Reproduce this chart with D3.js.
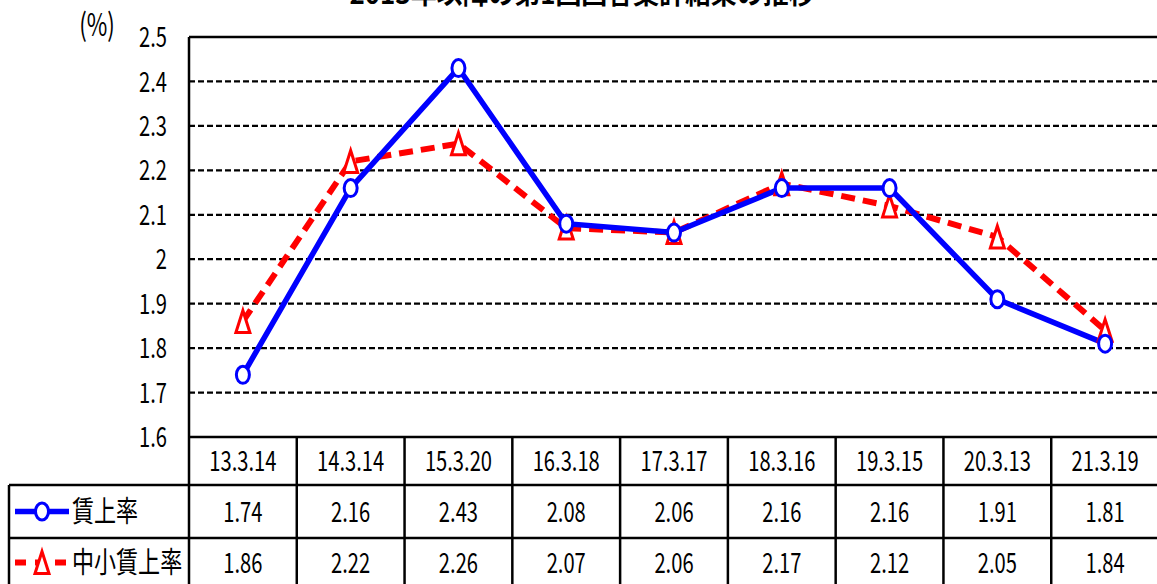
<!DOCTYPE html>
<html>
<head>
<meta charset="utf-8">
<script src="https://cdn.jsdelivr.net/npm/d3@7"></script>
<style>
  html, body { margin: 0; padding: 0; background: #fff; }
  svg { display: block; }
  text { font-family: "Noto Sans CJK JP", "Noto Sans", sans-serif; fill: #000; }
</style>
</head>
<body>
<div id="chart"></div>
<script>
// data
var categories = ["13.3.14", "14.3.14", "15.3.20", "16.3.18", "17.3.17", "18.3.16", "19.3.15", "20.3.13", "21.3.19"];
var wageRate = [1.74, 2.16, 2.43, 2.08, 2.06, 2.16, 2.16, 1.91, 1.81];
var smallWageRate = [1.86, 2.22, 2.26, 2.07, 2.06, 2.17, 2.12, 2.05, 1.84];
var yTicks = [1.6, 1.7, 1.8, 1.9, 2, 2.1, 2.2, 2.3, 2.4, 2.5];
var seriesNames = ["賃上率", "中小賃上率"];
var title = "2013年以降の第1回回答集計結果の推移";

var W = 1157, H = 584;
var svg = d3.select('#chart').append('svg').attr('width', W).attr('height', H);

var plot = { left: 189, right: 1159, top: 37, bottom: 437 };
var rowEdges = [437, 485, 538, 591];
var SX = 0.72; // the source font is narrow

var x = d3.scaleBand().domain(categories).range([plot.left, plot.right]);
var y = d3.scaleLinear().domain([1.6, 2.5]).range([plot.bottom, plot.top]);

function label(px, py, str, size, anchor, sx, weight) {
    return svg.append('text')
        .attr('transform', 'translate(' + px + ',' + py + ') scale(' + sx + ',1)')
        .attr('text-anchor', anchor)
        .attr('dy', '0.36em')
        .style('font-size', size + 'px')
        .style('font-weight', weight || 'normal')
        .text(str);
}

// title (cut off at the top of the picture, as in the source)
svg.append('text')
    .attr('x', 582).attr('y', 4)
    .attr('text-anchor', 'middle')
    .attr('textLength', 465).attr('lengthAdjust', 'spacingAndGlyphs')
    .style('font-size', '28px').style('font-weight', 'bold')
    .text(title);

// grid lines
svg.append('g').selectAll('line')
    .data(yTicks.filter(function (v) { return v > 1.6 && v < 2.5; }))
    .enter().append('line')
    .attr('x1', plot.left).attr('x2', plot.right)
    .attr('y1', function (d) { return y(d); }).attr('y2', function (d) { return y(d); })
    .attr('stroke', '#000').attr('stroke-width', 2.3).attr('stroke-dasharray', '6,3');

// plot border
svg.append('line').attr('x1', plot.left).attr('x2', plot.right)
    .attr('y1', y(2.5)).attr('y2', y(2.5)).attr('stroke', '#000').attr('stroke-width', 2.5);

// y tick labels
yTicks.forEach(function (v) {
    label(167, y(v), String(v), 28, 'end', SX);
});
label(97, 25, '(%)', 31, 'middle', 0.72);

// table
var tbl = svg.append('g').attr('stroke', '#000').attr('stroke-width', 2.5);
tbl.append('line').attr('x1', plot.left).attr('x2', plot.right).attr('y1', rowEdges[0]).attr('y2', rowEdges[0]);
tbl.append('line').attr('x1', 9).attr('x2', plot.right).attr('y1', rowEdges[1]).attr('y2', rowEdges[1]);
tbl.append('line').attr('x1', 9).attr('x2', plot.right).attr('y1', rowEdges[2]).attr('y2', rowEdges[2]);
tbl.append('line').attr('x1', 9).attr('x2', 9).attr('y1', rowEdges[1]).attr('y2', H + 5);
tbl.append('line').attr('x1', plot.left).attr('x2', plot.left).attr('y1', plot.top).attr('y2', H + 5);
categories.forEach(function (c) {
    var xr = x(c) + x.bandwidth();
    tbl.append('line').attr('x1', xr).attr('x2', xr).attr('y1', rowEdges[0]).attr('y2', H + 5);
});

var fmt = d3.format('.2f');
categories.forEach(function (c, i) {
    var cx = x(c) + x.bandwidth() / 2;
    label(cx, (rowEdges[0] + rowEdges[1]) / 2, c, 28, 'middle', SX);
    label(cx, (rowEdges[1] + rowEdges[2]) / 2, fmt(wageRate[i]), 28, 'middle', SX);
    label(cx, (rowEdges[2] + rowEdges[3]) / 2 - 2, fmt(smallWageRate[i]), 28, 'middle', SX);
});

// markers
function circleMark(g, cx, cy) {
    g.append('ellipse').attr('cx', cx).attr('cy', cy).attr('rx', 6.5).attr('ry', 8.5)
        .attr('fill', '#fff').attr('stroke', '#0000ff').attr('stroke-width', 3);
}
function triMark(g, cx, cy) {
    g.append('path').attr('d', 'M' + cx + ',' + (cy - 11) + 'L' + (cx + 7) + ',' + (cy + 11) + 'L' + (cx - 7) + ',' + (cy + 11) + 'Z')
        .attr('fill', '#fff').attr('stroke', '#ff0000').attr('stroke-width', 3).attr('stroke-linejoin', 'miter');
}

var line = d3.line()
    .x(function (d, i) { return x(categories[i]) + x.bandwidth() / 2; })
    .y(function (d) { return y(d); });

svg.append('path').datum(smallWageRate).attr('d', line)
    .attr('fill', 'none').attr('stroke', '#ff0000').attr('stroke-width', 6)
    .attr('stroke-dasharray', '14,8');
svg.append('path').datum(wageRate).attr('d', line)
    .attr('fill', 'none').attr('stroke', '#0000ff').attr('stroke-width', 5.5);

var marks = svg.append('g');
smallWageRate.forEach(function (v, i) { triMark(marks, x(categories[i]) + x.bandwidth() / 2, y(v)); });
wageRate.forEach(function (v, i) { circleMark(marks, x(categories[i]) + x.bandwidth() / 2, y(v)); });

// legend in row headers
var r1 = (rowEdges[1] + rowEdges[2]) / 2, r2 = (rowEdges[2] + rowEdges[3]) / 2 - 2;
svg.append('line').attr('x1', 15).attr('x2', 69).attr('y1', r1).attr('y2', r1)
    .attr('stroke', '#0000ff').attr('stroke-width', 5.5);
circleMark(svg, 42, r1);
svg.append('line').attr('x1', 15).attr('x2', 69).attr('y1', r2).attr('y2', r2)
    .attr('stroke', '#ff0000').attr('stroke-width', 6).attr('stroke-dasharray', '11,9,0,0');
triMark(svg, 42, r2);
label(72, r1, seriesNames[0], 29, 'start', 0.76);
label(72, r2, seriesNames[1], 29, 'start', 0.76);
</script>
</body>
</html>
